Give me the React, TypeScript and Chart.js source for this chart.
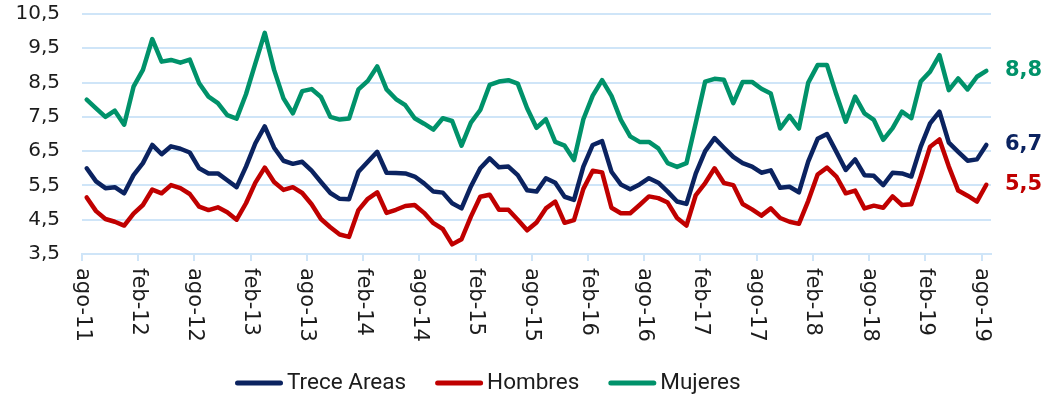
import React, { useEffect, useRef } from "react";
import { Chart, registerables } from "chart.js";

Chart.register(...registerables);

// Month abbreviations and category labels (ago-11 ... ago-19)
const MONTHS = ["ene", "feb", "mar", "abr", "may", "jun", "jul", "ago", "sep", "oct", "nov", "dic"];
const categories: string[] = [];
for (let i = 0; i < 97; i++) {
  const m = (7 + i) % 12;
  const yr = 11 + Math.floor((7 + i) / 12);
  categories.push(`${MONTHS[m]}-${yr}`);
}

const seriesNames = ["Trece Areas", "Hombres", "Mujeres"];
const seriesColors = ["#0b2360", "#c00000", "#00926a"];

const trece = [
  6.0, 5.62, 5.42, 5.45, 5.27, 5.8, 6.15, 6.68, 6.41, 6.64, 6.57, 6.46,
  6.0, 5.85, 5.85, 5.65, 5.45, 6.05, 6.73, 7.22, 6.6, 6.22, 6.13, 6.19,
  5.93, 5.6, 5.28, 5.11, 5.1, 5.9, 6.19, 6.48, 5.87, 5.86, 5.85, 5.76,
  5.56, 5.32, 5.29, 4.98, 4.83, 5.47, 6.0, 6.29, 6.03, 6.05, 5.8, 5.36,
  5.32, 5.71, 5.58, 5.17, 5.08, 6.05, 6.68, 6.79, 5.9, 5.53, 5.39, 5.53,
  5.71, 5.58, 5.32, 5.03, 4.96, 5.85, 6.5, 6.88, 6.6, 6.33, 6.15, 6.05,
  5.87, 5.94, 5.43, 5.46, 5.3, 6.2, 6.86, 7.0, 6.48, 5.95, 6.26, 5.8,
  5.78, 5.51, 5.87, 5.85, 5.76, 6.63, 7.31, 7.65, 6.75, 6.48, 6.22, 6.26,
  6.68,
];

const hombres = [
  5.15, 4.75, 4.52, 4.44, 4.33, 4.68, 4.93, 5.38, 5.27, 5.51, 5.42, 5.25,
  4.88, 4.78, 4.86, 4.72, 4.5, 4.98, 5.58, 6.02, 5.6, 5.37, 5.45, 5.28,
  4.95, 4.52, 4.28, 4.07, 4.0, 4.78, 5.11, 5.3, 4.7, 4.79, 4.9, 4.93,
  4.7, 4.4, 4.23, 3.78, 3.93, 4.59, 5.17, 5.23, 4.79, 4.79, 4.5, 4.19,
  4.42, 4.83, 5.03, 4.41, 4.49, 5.4, 5.93, 5.88, 4.85, 4.69, 4.69, 4.93,
  5.18, 5.13, 5.0, 4.55, 4.33, 5.22, 5.57, 6.0, 5.57, 5.51, 4.96, 4.8,
  4.62, 4.83, 4.55, 4.44, 4.38, 5.05, 5.82, 6.02, 5.76, 5.27, 5.35, 4.83,
  4.91, 4.85, 5.18, 4.93, 4.95, 5.76, 6.63, 6.84, 6.05, 5.35, 5.2, 5.03,
  5.52,
];

const mujeres = [
  8.0, 7.75, 7.5, 7.68, 7.27, 8.38, 8.87, 9.77, 9.11, 9.16, 9.08, 9.17,
  8.48, 8.09, 7.9, 7.55, 7.45, 8.16, 9.06, 9.95, 8.87, 8.04, 7.6, 8.25,
  8.31, 8.08, 7.5, 7.42, 7.45, 8.3, 8.55, 8.97, 8.3, 8.02, 7.84, 7.46,
  7.3, 7.13, 7.46, 7.38, 6.66, 7.33, 7.7, 8.43, 8.53, 8.57, 8.47, 7.75,
  7.18, 7.43, 6.77, 6.66, 6.24, 7.43, 8.12, 8.57, 8.11, 7.41, 6.93, 6.77,
  6.77, 6.58, 6.15, 6.04, 6.15, 7.33, 8.53, 8.61, 8.58, 7.9, 8.52, 8.52,
  8.32, 8.18, 7.16, 7.53, 7.16, 8.5, 9.01, 9.01, 8.15, 7.36, 8.09, 7.6,
  7.41, 6.83, 7.17, 7.65, 7.46, 8.53, 8.82, 9.3, 8.28, 8.62, 8.3, 8.67,
  8.84,
];

const yTicks = [3.5, 4.5, 5.5, 6.5, 7.5, 8.5, 9.5, 10.5];
const labelEvery = 6;
const xTickValues = categories.map((_, i) => i).filter((i) => i % labelEvery === 0);

const fmt = (v: number) => v.toFixed(1).replace(".", ",");
const GRID = "#cfe5f8";
const TEXT = "#1c1c1c";

const LEGEND_LEFT = 235;
const LEGEND_Y = 383;
const LEGEND_LINE = 48;
const LEGEND_TEXT_GAP = 4;
const LEGEND_ITEM_GAP = 29;

const overlayPlugin = {
  id: "overlay",
  afterDraw(chart: any) {
    const { ctx, chartArea, scales } = chart;
    const xs = scales.x;
    const ys = scales.y;
    ctx.save();
    // rotated x tick labels (reading downward)
    ctx.fillStyle = TEXT;
    ctx.font = '21px "DejaVu Sans"';
    ctx.textAlign = "left";
    ctx.textBaseline = "middle";
    xs.ticks.forEach((t: any) => {
      const px = xs.getPixelForValue(t.value);
      ctx.save();
      ctx.translate(px, xs.top + 14);
      ctx.rotate(Math.PI / 2);
      ctx.fillText(categories[Math.round(t.value)], 0, 0);
      ctx.restore();
    });
    // last-value labels
    ctx.font = 'bold 21px "DejaVu Sans"';
    chart.data.datasets.forEach((ds: any) => {
      const last = ds.data[ds.data.length - 1].y;
      ctx.fillStyle = ds.borderColor;
      ctx.fillText(fmt(last), chartArea.right + 14, ys.getPixelForValue(last));
    });
    // legend
    ctx.font = '22.5px "Roboto"';
    let x = LEGEND_LEFT;
    chart.data.datasets.forEach((ds: any) => {
      ctx.strokeStyle = ds.borderColor;
      ctx.lineWidth = 5;
      ctx.lineCap = "round";
      ctx.beginPath();
      ctx.moveTo(x + 2.5, LEGEND_Y);
      ctx.lineTo(x + LEGEND_LINE - 2.5, LEGEND_Y);
      ctx.stroke();
      ctx.fillStyle = TEXT;
      const tx = x + LEGEND_LINE + LEGEND_TEXT_GAP;
      ctx.fillText(ds.label, tx, LEGEND_Y);
      x = tx + ctx.measureText(ds.label).width + LEGEND_ITEM_GAP;
    });
    ctx.restore();
  },
};

export default function App() {
  const ref = useRef<HTMLCanvasElement | null>(null);

  useEffect(() => {
    if (!ref.current) return;
    const allSeries = [trece, hombres, mujeres];
    const chart = new Chart(ref.current, {
      type: "line",
      data: {
        datasets: allSeries.map((vals, si) => ({
          label: seriesNames[si],
          data: vals.map((v, i) => ({ x: i + 0.5, y: v })),
          borderColor: seriesColors[si],
          backgroundColor: seriesColors[si],
          borderWidth: 4.5,
          pointRadius: 0,
          borderJoinStyle: "round" as const,
          borderCapStyle: "round" as const,
          tension: 0,
          fill: false,
        })),
      },
      options: {
        responsive: false,
        animation: false,
        devicePixelRatio: 1,
        layout: { padding: { top: 14, right: 55, bottom: 36, left: 0 } },
        plugins: {
          tooltip: { enabled: false },
          legend: { display: false },
        },
        scales: {
          x: {
            type: "linear",
            min: 0,
            max: categories.length,
            afterBuildTicks: (axis: any) => {
              axis.ticks = xTickValues.map((v) => ({ value: v }));
            },
            afterFit: (axis: any) => {
              axis.height = 108;
              axis.paddingLeft = 0;
              axis.paddingRight = 0;
            },
            ticks: { display: false, stepSize: labelEvery },
            grid: {
              drawOnChartArea: false,
              drawTicks: true,
              tickLength: 7,
              color: GRID,
              lineWidth: 2,
            },
            border: { display: true, color: GRID, width: 2 },
          },
          y: {
            min: yTicks[0],
            max: yTicks[yTicks.length - 1],
            afterBuildTicks: (axis: any) => {
              axis.ticks = yTicks.map((v) => ({ value: v }));
            },
            afterFit: (axis: any) => {
              axis.width = 82;
              axis.paddingTop = 0;
              axis.paddingBottom = 0;
            },
            ticks: {
              padding: 22,
              color: TEXT,
              font: { family: "DejaVu Sans", size: 20 },
              callback: (v: any) => fmt(Number(v)),
            },
            grid: { color: GRID, lineWidth: 2, drawTicks: false },
            border: { display: false },
          },
        },
      },
      plugins: [overlayPlugin],
    });
    return () => chart.destroy();
  }, []);

  return (
    <div style={{ position: "fixed", left: 0, top: 0, width: 1046, height: 398, background: "#fff" }}>
      <canvas ref={ref} width={1046} height={398} style={{ display: "block" }} />
    </div>
  );
}
